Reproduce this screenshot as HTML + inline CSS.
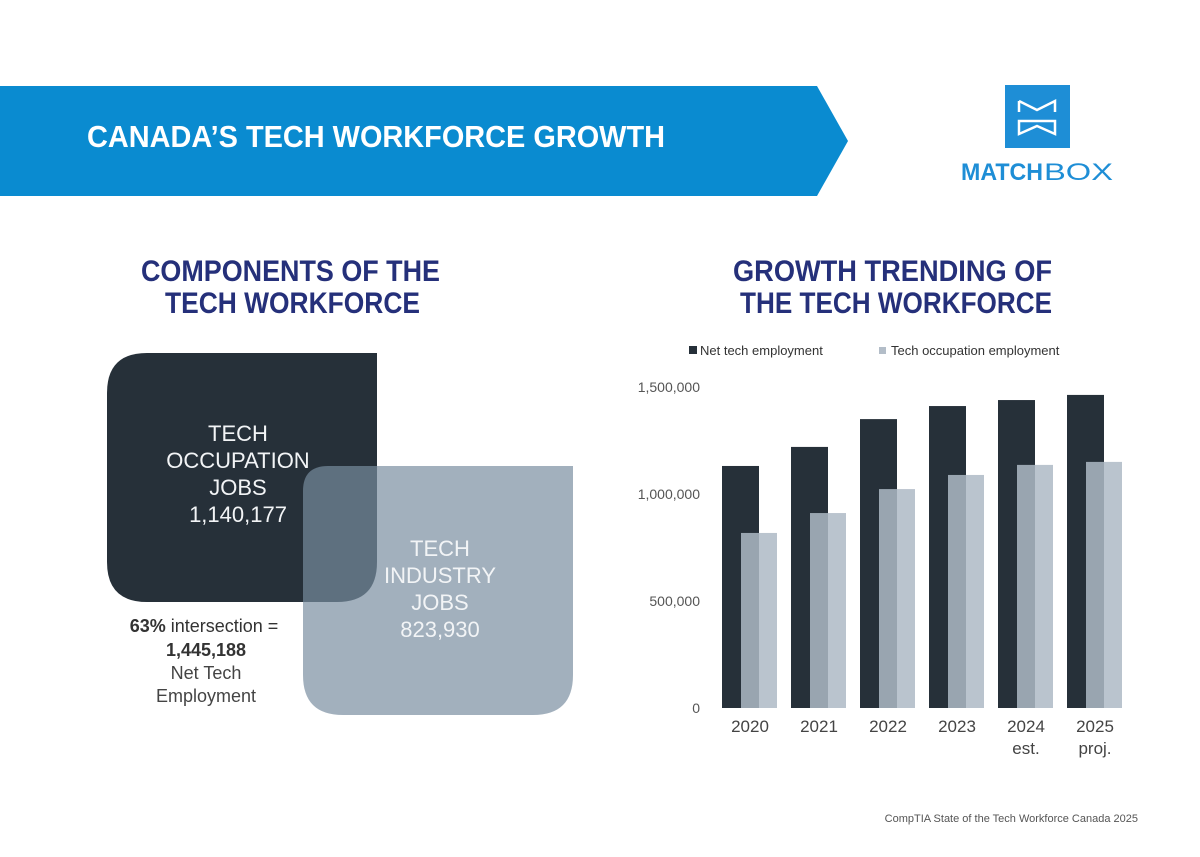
<!DOCTYPE html>
<html><head><meta charset="utf-8"><style>
html,body{margin:0;padding:0;background:#fff}
svg{display:block}
text{font-family:"Liberation Sans",sans-serif}
</style></head><body>
<svg id="root" width="1200" height="857" viewBox="0 0 1200 857">
<polygon points="0,86 817,86 848,141 817,196 0,196" fill="#0a8bd0"/>
<text x="87" y="147" font-size="31" font-weight="bold" fill="#fff" textLength="578" lengthAdjust="spacingAndGlyphs">CANADA’S TECH WORKFORCE GROWTH</text>
<g>
<rect x="1005" y="85" width="65" height="63" fill="#1e8ed6"/>
<path d="M1019,101 L1037,110 L1055,101 L1055,112 M1019,101 L1019,112" stroke="#fff" stroke-width="2.5" fill="none"/>
<path d="M1019,121 L1055,121 L1055,134 L1037,126 L1019,134 Z" stroke="#fff" stroke-width="2.5" fill="none"/>
<text x="961" y="180" font-size="24" font-weight="bold" fill="#1e8ed6" textLength="82" lengthAdjust="spacingAndGlyphs">MATCH</text>
<text x="1044" y="180" font-size="24" fill="#1e8ed6" textLength="69" lengthAdjust="spacingAndGlyphs">BOX</text>
</g>
<g fill="#25307a" font-weight="bold" font-size="30">
<text x="141" y="281" textLength="299" lengthAdjust="spacingAndGlyphs">COMPONENTS OF THE</text>
<text x="165" y="313" textLength="255" lengthAdjust="spacingAndGlyphs">TECH WORKFORCE</text>
<text x="733" y="281" textLength="319" lengthAdjust="spacingAndGlyphs">GROWTH TRENDING OF</text>
<text x="740" y="313" textLength="312" lengthAdjust="spacingAndGlyphs">THE TECH WORKFORCE</text>
</g>
<g>
<path d="M147,353 L377,353 L377,562 Q377,602 337,602 L147,602 Q107,602 107,562 L107,393 Q107,353 147,353 Z" fill="#263039"/>
<path d="M328,466 L573,466 L573,675 Q573,715 533,715 L343,715 Q303,715 303,675 L303,491 Q303,466 328,466 Z" fill="rgba(120,140,159,0.69)"/>
<g fill="#f2f4f6" font-size="22" text-anchor="middle">
<text x="238" y="441">TECH</text>
<text x="238" y="468">OCCUPATION</text>
<text x="238" y="495">JOBS</text>
<text x="238" y="522">1,140,177</text>
<text x="440" y="556">TECH</text>
<text x="440" y="583">INDUSTRY</text>
<text x="440" y="610">JOBS</text>
<text x="440" y="637">823,930</text>
</g>
<g fill="#333" font-size="18" text-anchor="middle">
<text x="204" y="632"><tspan font-weight="bold">63%</tspan> intersection =</text>
<text x="206" y="656" font-weight="bold">1,445,188</text>
<text x="206" y="679" fill="#444">Net Tech</text>
<text x="206" y="702" fill="#444">Employment</text>
</g>
</g>
<g id="chart"></g>
<text x="1138" y="822" font-size="11" fill="#555" text-anchor="end">CompTIA State of the Tech Workforce Canada 2025</text>
</svg>
<script>
const categories = ["2020","2021","2022","2023","2024","2025"];
const subLabels = ["","","","","est.","proj."];
const netTech = [1131000,1220000,1350000,1411000,1439000,1463000];
const techOcc = [818000,911000,1023000,1089000,1136000,1150000];
const yTicks = [0,500000,1000000,1500000];
const yTickLabels = ["0","500,000","1,000,000","1,500,000"];

const NS="http://www.w3.org/2000/svg";
const g=document.getElementById('chart');
const y0=708, pxPerUnit=214/1000000;
function yScale(v){return y0 - v*pxPerUnit;}
function xScale(i){return 722 + i*69;}
function mk(tag,attrs,txt){const e=document.createElementNS(NS,tag);for(const k in attrs)e.setAttribute(k,attrs[k]);if(txt!==undefined)e.textContent=txt;g.appendChild(e);return e;}

let e;
e=mk('rect',{x:689,y:346,width:8,height:8,fill:'#263039'});


e=mk('text',{x:700,y:355,'font-size':13,fill:'#333'},'Net tech employment');


e=mk('rect',{x:879,y:347,width:7,height:7,fill:'#b3bdc8'});


e=mk('text',{x:891,y:355,'font-size':13,fill:'#333'},'Tech occupation employment');



yTicks.forEach((t,i)=>{
  const el=mk('text',{x:700,y:yScale(t)+5,'font-size':14,fill:'#555','text-anchor':'end'},yTickLabels[i]);
  
  
});

categories.forEach((c,i)=>{
  const x=xScale(i);
  const d=mk('rect',{x:x,y:yScale(netTech[i]),width:37,height:y0-yScale(netTech[i]),fill:'#263039'});
  
  
  const l=mk('rect',{x:x+19,y:yScale(techOcc[i]),width:36,height:y0-yScale(techOcc[i]),fill:'rgba(174,186,198,0.85)'});
  
  
  const t=mk('text',{x:x+28,y:732,'font-size':17,fill:'#444','text-anchor':'middle'},c);
  
  
  if(subLabels[i]){
    const s=mk('text',{x:x+28,y:754,'font-size':17,fill:'#444','text-anchor':'middle'},subLabels[i]);
    
    
  }
});
</script>
</body></html>
